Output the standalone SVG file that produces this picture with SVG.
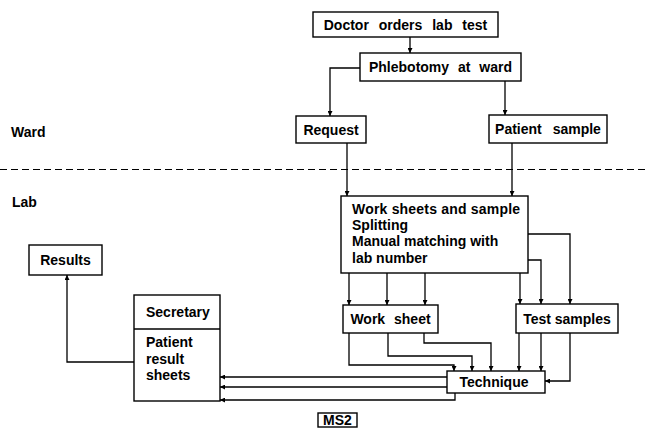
<svg xmlns="http://www.w3.org/2000/svg" width="648" height="432" viewBox="0 0 648 432">
  <defs>
    <marker id="arr" viewBox="0 0 10 10" refX="10" refY="5" markerWidth="5" markerHeight="5" markerUnits="userSpaceOnUse" orient="auto">
      <path d="M0,0 L10,5 L0,10 z" fill="#000"/>
    </marker>
    <style>
      .box { fill: #fff; stroke: #000; stroke-width: 1.4; }
      .lbl { font-family: "Liberation Sans", Arial, sans-serif; font-weight: bold; font-size: 14px; fill: #000; }
      .con path { fill: none; stroke: #000; stroke-width: 1.3; }
      .con .a { marker-end: url(#arr); }
      .sep { stroke: #000; stroke-width: 1.2; stroke-dasharray: 7 4; }
    </style>
  </defs>
  <rect width="648" height="432" fill="#fff"/>

  <!-- zone separator and labels -->
  <g id="zones">
    <line class="sep" x1="0" y1="169.5" x2="648" y2="169.5"/>
    <text class="lbl" x="11" y="137">Ward</text>
    <text class="lbl" x="12" y="207">Lab</text>
  </g>

  <!-- connectors -->
  <g class="con" id="connectors">
    <path class="a" d="M410,37 V53"/>
    <path class="a" d="M360,68 H330 V116"/>
    <path class="a" d="M505,81 V115"/>
    <path class="a" d="M347,143 V196"/>
    <path class="a" d="M512,143 V196"/>
    <!-- work sheets box to work sheet -->
    <path class="a" d="M349,273 V305"/>
    <path class="a" d="M387,273 V305"/>
    <path class="a" d="M425,273 V305"/>
    <!-- work sheets box to test samples -->
    <path class="a" d="M520,273 V304"/>
    <path class="a" d="M528,260 H541 V304"/>
    <path class="a" d="M528,234 H570 V304"/>
    <!-- work sheet to technique -->
    <path class="a" d="M349,333 V365 H454 V371"/>
    <path class="a" d="M388,333 V356 H472 V371"/>
    <path class="a" d="M424,333 V343 H491 V371"/>
    <!-- test samples to technique -->
    <path class="a" d="M519,333 V371"/>
    <path class="a" d="M541,333 V371"/>
    <path class="a" d="M570,333 V381 H545"/>
    <!-- technique to secretary -->
    <path class="a" d="M447,377 H220"/>
    <path class="a" d="M447,387 H220"/>
    <path class="a" d="M455,393 V400 H220"/>
    <!-- secretary to results -->
    <path class="a" d="M134,362 H67 V275"/>
  </g>

  <g id="doctor">
    <rect class="box" x="313" y="12" width="185" height="25"/>
    <text class="lbl" x="405.5" y="29.5" text-anchor="middle" word-spacing="6">Doctor orders lab test</text>
  </g>
  <g id="phlebotomy">
    <rect class="box" x="360" y="53" width="161" height="28"/>
    <text class="lbl" x="440.5" y="71.5" text-anchor="middle" word-spacing="5">Phlebotomy at ward</text>
  </g>
  <g id="request">
    <rect class="box" x="296" y="116" width="70" height="27"/>
    <text class="lbl" x="331" y="134.5" text-anchor="middle">Request</text>
  </g>
  <g id="patient-sample">
    <rect class="box" x="489" y="115" width="118" height="28"/>
    <text class="lbl" x="548" y="134" text-anchor="middle" word-spacing="7">Patient sample</text>
  </g>
  <g id="work-sheets">
    <rect class="box" x="341" y="196" width="187" height="77"/>
    <text class="lbl" x="352" y="213.5" letter-spacing="0.2">Work sheets and sample</text>
    <text class="lbl" x="352" y="230">Splitting</text>
    <text class="lbl" x="352" y="246">Manual matching with</text>
    <text class="lbl" x="352" y="262.5">lab number</text>
  </g>
  <g id="work-sheet">
    <rect class="box" x="343" y="305" width="95" height="28"/>
    <text class="lbl" x="390.5" y="324" text-anchor="middle" word-spacing="5">Work sheet</text>
  </g>
  <g id="test-samples">
    <rect class="box" x="516" y="304" width="102" height="29"/>
    <text class="lbl" x="567" y="323.5" text-anchor="middle">Test samples</text>
  </g>
  <g id="technique">
    <rect class="box" x="447" y="371" width="98" height="22"/>
    <text class="lbl" x="494" y="387" text-anchor="middle">Technique</text>
  </g>
  <g id="secretary">
    <rect class="box" x="134" y="295" width="86" height="106"/>
    <line x1="134" y1="329" x2="220" y2="329" stroke="#000" stroke-width="1.4"/>
    <text class="lbl" x="146" y="317">Secretary</text>
    <text class="lbl" x="146" y="347">Patient</text>
    <text class="lbl" x="146" y="363.5">result</text>
    <text class="lbl" x="146" y="380">sheets</text>
  </g>
  <g id="results">
    <rect class="box" x="29" y="245" width="73" height="30"/>
    <text class="lbl" x="65.5" y="265" text-anchor="middle">Results</text>
  </g>
  <g id="ms2">
    <rect class="box" x="318" y="413" width="39" height="14"/>
    <text class="lbl" x="337.5" y="425" text-anchor="middle" font-size="12">MS2</text>
  </g>
</svg>
